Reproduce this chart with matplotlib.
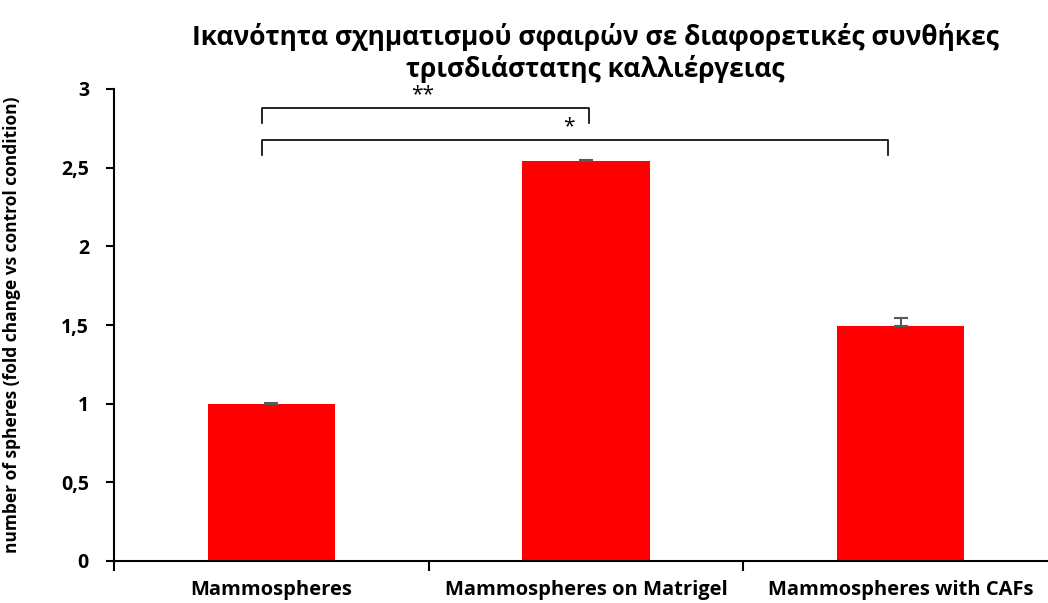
import numpy as np
import matplotlib
matplotlib.use("Agg")
import matplotlib.pyplot as plt

# values
categories = ["Mammospheres", "Mammospheres on Matrigel", "Mammospheres with CAFs"]
fold_change = [1.0, 2.543, 1.494]
errors = [0.002, 0.005, 0.049]
y_ticks = [0, 0.5, 1, 1.5, 2, 2.5, 3]
y_tick_labels = ["0", "0,5", "1", "1,5", "2", "2,5", "3"]

# significance brackets: (x start, x end, top, leg bottom, label)
brackets = [
    (-0.03, 1.01, 2.88, 2.785, "**"),
    (-0.03, 1.96, 2.676, 2.581, "*"),
]

title = "Ικανότητα σχηματισμού σφαιρών σε διαφορετικές συνθήκες\nτρισδιάστατης καλλιέργειας"
ylabel = "number of spheres (fold change vs control condition)"

plt.rcParams["font.family"] = ["Open Sans", "DejaVu Sans"]

fig = plt.figure(figsize=(10.48, 6.03), dpi=100)
W, H = 1048, 603
ax = fig.add_axes([114 / W, 1 - 561 / H, 944 / W, (561 - 89) / H])

x = np.arange(len(categories))
ax.bar(x, fold_change, width=0.404, color="#ff0000", zorder=2)
ax.errorbar(x, fold_change, yerr=[[0] * 3, errors], fmt="none",
            ecolor="#595959", elinewidth=1.5, capsize=5, capthick=1.5, zorder=3)

ax.set_xlim(-0.5, 2.5)
ax.set_ylim(0, 3)
ax.set_yticks(y_ticks)
ax.set_yticklabels(y_tick_labels, fontsize=14, fontweight="bold")
ax.set_xticks([-0.5, 0.5, 1.5, 2.5])
ax.set_xticklabels([])
ax.set_xticks(x, minor=True)
ax.set_xticklabels(categories, minor=True, fontsize=14.5, fontweight="bold")
ax.tick_params(axis="x", which="minor", length=0, pad=14)
ax.tick_params(axis="x", which="major", length=7, width=1.5, direction="out")
ax.tick_params(axis="y", length=6, width=1.5, direction="out", pad=12)

for s in ["top", "right"]:
    ax.spines[s].set_visible(False)
for s in ["left", "bottom"]:
    ax.spines[s].set_linewidth(1.5)

for x0, x1, top, bot, lab in brackets:
    ax.plot([x0, x0, x1, x1], [bot, top, top, bot], color="black", lw=1.2,
            clip_on=False, zorder=4)
    ax.text((x0 + x1) / 2 * 0.98, top + 0.02, lab, ha="center", va="bottom",
            fontsize=15, clip_on=False)

ax.set_ylabel(ylabel, fontsize=12.5, fontweight="bold")
ax.yaxis.set_label_coords(-0.099, 0.5)

fig.text(595 / W, 1 - 53 / H, title, ha="center", va="center",
         fontsize=19, fontweight="bold", linespacing=1.15)

fig.savefig("out.png", dpi=100)
